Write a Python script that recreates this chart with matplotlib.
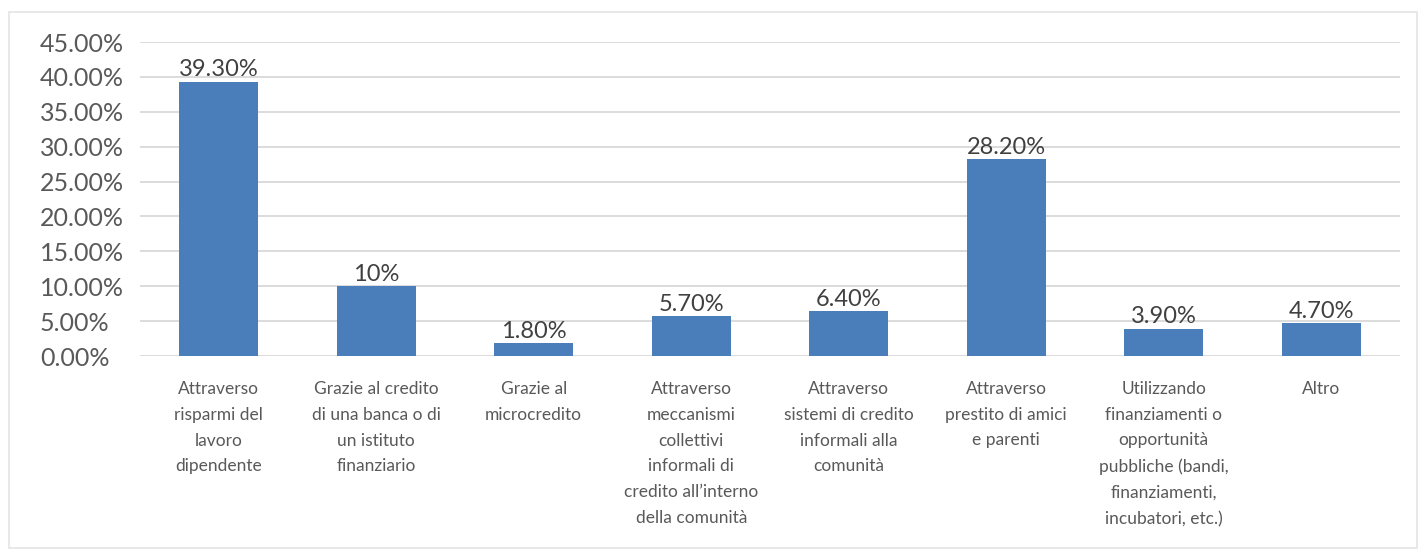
import matplotlib.pyplot as plt
from matplotlib.ticker import FuncFormatter, MultipleLocator
from matplotlib.patches import Rectangle

categories = [
    "Attraverso\nrisparmi del\nlavoro\ndipendente",
    "Grazie al credito\ndi una banca o di\nun istituto\nfinanziario",
    "Grazie al\nmicrocredito",
    "Attraverso\nmeccanismi\ncollettivi\ninformali di\ncredito all\u2019interno\ndella comunit\u00e0",
    "Attraverso\nsistemi di credito\ninformali alla\ncomunit\u00e0",
    "Attraverso\nprestito di amici\ne parenti",
    "Utilizzando\nfinanziamenti o\nopportunit\u00e0\npubbliche (bandi,\nfinanziamenti,\nincubatori, etc.)",
    "Altro",
]
values = [39.3, 10.0, 1.8, 5.7, 6.4, 28.2, 3.9, 4.7]
value_labels = ["39.30%", "10%", "1.80%", "5.70%", "6.40%", "28.20%", "3.90%", "4.70%"]

bar_color = "#4A7EBB"
text_color = "#595959"
grid_color = "#D9D9D9"

plt.rcParams["font.family"] = ["Lato", "DejaVu Sans"]

fig = plt.figure(figsize=(14.21, 5.54), dpi=100)
# light frame around the chart area
fig.patches.append(Rectangle((9 / 1421, 6 / 554), 1408 / 1421, 1 - 18 / 554,
                             transform=fig.transFigure, fill=False,
                             edgecolor="#E4E4E4", linewidth=1.2))
ax = fig.add_axes([140 / 1421, 1 - 356 / 554, 1260 / 1421, (356 - 42) / 554])

x = range(len(categories))
bars = ax.bar(x, values, width=0.5, color=bar_color, zorder=3)
for rect, lab in zip(bars, value_labels):
    ax.text(rect.get_x() + rect.get_width() / 2, rect.get_height() + 0.2, lab,
            ha="center", va="bottom", fontsize=17, color="#404040")

ax.set_xlim(-0.5, len(categories) - 0.5)
ax.set_ylim(0, 45)
ax.yaxis.set_major_locator(MultipleLocator(5))
ax.yaxis.set_major_formatter(FuncFormatter(lambda v, p: f"{v:.2f}%"))
ax.grid(axis="y", color=grid_color, linewidth=1.3, zorder=0)

ax.set_xticks(list(x))
ax.set_xticklabels(categories, fontsize=12.5, color=text_color, linespacing=1.75, va="top")
ax.tick_params(axis="x", length=0, pad=18)
ax.tick_params(axis="y", length=0, pad=72, labelsize=18, labelcolor=text_color)
for lab in ax.get_yticklabels():
    lab.set_horizontalalignment("left")

for s in ax.spines.values():
    s.set_visible(False)

fig.savefig("out.png", dpi=100)
